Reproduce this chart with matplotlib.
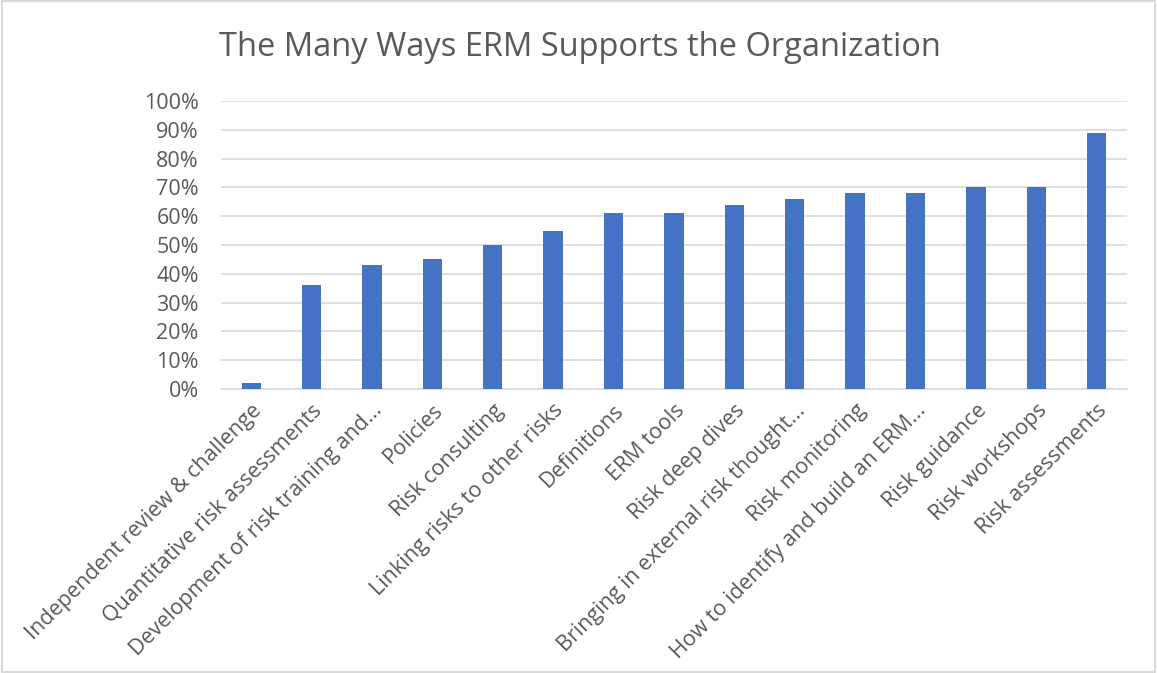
import matplotlib.pyplot as plt
from matplotlib.patches import Rectangle
from matplotlib.ticker import PercentFormatter

categories = [
    "Independent review & challenge",
    "Quantitative risk assessments",
    "Development of risk training and...",
    "Policies",
    "Risk consulting",
    "Linking risks to other risks",
    "Definitions",
    "ERM tools",
    "Risk deep dives",
    "Bringing in external risk thought...",
    "Risk monitoring",
    "How to identify and build an ERM...",
    "Risk guidance",
    "Risk workshops",
    "Risk assessments",
]
values = [2, 36, 43, 45, 50, 55, 61, 61, 64, 66, 68, 68, 70, 70, 89]

plt.rcParams['font.family'] = ['Open Sans', 'DejaVu Sans']
text_color = "#595959"

fig = plt.figure(figsize=(11.57, 6.73), dpi=100)
ax = fig.add_axes([0.191, 0.422, 0.783, 0.428])

x = list(range(len(categories)))
ax.bar(x, values, width=0.32, color="#4472C4", zorder=3)

ax.set_ylim(0, 100)
ax.set_xlim(-0.5, len(categories) - 0.5)
ax.set_yticks(range(0, 101, 10))
ax.yaxis.set_major_formatter(PercentFormatter(decimals=0))
ax.grid(axis="y", color="#D9D9D9", linewidth=1.2, zorder=0)

ax.set_xticks(x)
ax.set_xticklabels(categories, rotation=45, ha="right", rotation_mode="anchor")
ax.tick_params(axis="both", length=0, labelsize=15.5, colors=text_color)
ax.tick_params(axis="y", pad=16)
ax.tick_params(axis="x", pad=8)
for side in ["top", "right", "left"]:
    ax.spines[side].set_visible(False)
ax.spines["bottom"].set_color("#D9D9D9")
ax.spines["bottom"].set_linewidth(1.2)

fig.text(0.501, 0.93, "The Many Ways ERM Supports the Organization",
         ha="center", va="center", fontsize=23.5, color=text_color)

# light frame around the whole chart
fig.patches.append(Rectangle((0.002, 0.002), 0.996, 0.996, transform=fig.transFigure,
                             fill=False, edgecolor="#D9D9D9", linewidth=1.5))

fig.savefig("out.png", dpi=100)
